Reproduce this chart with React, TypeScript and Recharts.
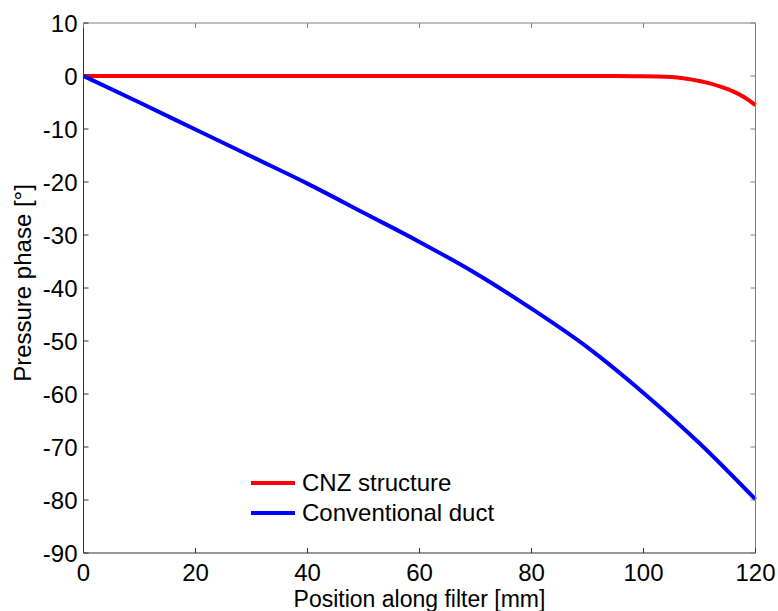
import React from 'react';
import { LineChart, Line, XAxis, YAxis, Legend } from 'recharts';

const xTicks = [0, 20, 40, 60, 80, 100, 120];
const yTicks = [-90, -80, -70, -60, -50, -40, -30, -20, -10, 0, 10];

const ductPositions = [0, 10, 20, 30, 40, 50, 60, 70, 80, 90, 100, 110, 120];
const conventionalDuct = [0, -5, -10.1, -15.2, -20.3, -25.8, -31.3, -37.2, -43.9, -51.2, -59.8, -69.3, -79.9];

const cnzPositions = [0, 20, 40, 60, 80, 90, 95, 100, 104, 106, 108, 110, 112, 114, 116, 118, 120];
const cnzStructure = [0, 0, 0, 0, 0, 0, -0.02, -0.05, -0.15, -0.3, -0.55, -0.95, -1.45, -2.1, -2.9, -4.0, -5.5];

const seriesNames = ['CNZ structure', 'Conventional duct'];
const seriesColors = ['#ff0000', '#0000ff'];

const cnzData = cnzPositions.map((x, i) => ({ x, y: cnzStructure[i] }));
const ductData = ductPositions.map((x, i) => ({ x, y: conventionalDuct[i] }));

const FONT = '"Liberation Sans", Arial, Helvetica, sans-serif';
const TICK_LEN = 5;

const LegendContent = (props: any) => {
  const payload = (props.payload || []).filter((p: any) => p.type !== 'none');
  return (
    <div style={{ fontFamily: FONT, fontSize: 24, color: '#000' }}>
      {payload.map((p: any) => (
        <div key={p.value} style={{ display: 'flex', alignItems: 'center', height: 30 }}>
          <svg width={44} height={4} style={{ marginRight: 7, display: 'block' }}>
            <line x1={0} y1={2} x2={44} y2={2} stroke={p.color} strokeWidth={4} />
          </svg>
          <span style={{ lineHeight: '30px', whiteSpace: 'nowrap' }}>{p.value}</span>
        </div>
      ))}
    </div>
  );
};

const BottomTick = (props: any) => {
  const { x, y, payload } = props;
  const base = y - 12;
  return (
    <g>
      <line x1={x} y1={base} x2={x} y2={base - TICK_LEN} stroke="#333" strokeWidth={1} />
      <text x={x} y={base + 28} textAnchor="middle" style={{ fontFamily: FONT, fontSize: 24, fill: '#000' }}>
        {payload.value}
      </text>
    </g>
  );
};

const LeftTick = (props: any) => {
  const { x, y, payload } = props;
  const base = x + 10;
  return (
    <g>
      <line x1={base} y1={y} x2={base + TICK_LEN} y2={y} stroke="#333" strokeWidth={1} />
      <text x={x + 4} y={y + 8.5} textAnchor="end" style={{ fontFamily: FONT, fontSize: 24, fill: '#000' }}>
        {payload.value}
      </text>
    </g>
  );
};

const TopTick = (props: any) => {
  const { x, y } = props;
  return <line x1={x} y1={y} x2={x} y2={y + TICK_LEN} stroke="#808080" strokeWidth={1} />;
};

const RightTick = (props: any) => {
  const { x, y } = props;
  return <line x1={x} y1={y} x2={x - TICK_LEN} y2={y} stroke="#808080" strokeWidth={1} />;
};

export default function App() {
  return (
    <div style={{ position: 'absolute', left: 0, top: 0, width: 778, height: 611, background: '#fff' }}>
      <LineChart width={778} height={611} margin={{ top: 22, right: 21.5, bottom: 28, left: 23.5 }}>
        <XAxis
          xAxisId="b"
          dataKey="x"
          type="number"
          orientation="bottom"
          domain={[0, 120]}
          ticks={xTicks}
          height={30}
          tickSize={0}
          tickMargin={12}
          tickLine={false}
          stroke="#333"
          tick={<BottomTick />}
          interval={0}
          allowDuplicatedCategory={false}
          label={{
            content: (p: any) => (
              <text
                x={p.viewBox.x + p.viewBox.width / 2}
                y={p.viewBox.y + 54}
                textAnchor="middle"
                style={{ fontFamily: FONT, fontSize: 23, fill: '#000' }}
              >
                Position along filter [mm]
              </text>
            ),
          }}
        />
        <XAxis
          xAxisId="t"
          dataKey="x"
          type="number"
          orientation="top"
          domain={[0, 120]}
          ticks={xTicks}
          height={1}
          tickSize={0}
          tickMargin={0}
          tickLine={false}
          interval={0}
          stroke="#808080"
          tick={<TopTick />}
        />
        <YAxis
          yAxisId="l"
          type="number"
          orientation="left"
          domain={[-90, 10]}
          ticks={yTicks}
          width={60}
          tickSize={0}
          tickMargin={10}
          tickLine={false}
          interval={0}
          stroke="#333"
          tick={<LeftTick />}
          label={{
            content: () => (
              <text
                x={31}
                y={283}
                transform="rotate(-90, 31, 283)"
                textAnchor="middle"
                style={{ fontFamily: FONT, fontSize: 24, fill: '#000' }}
              >
                Pressure phase [°]
              </text>
            ),
          }}
        />
        <YAxis
          yAxisId="r"
          type="number"
          orientation="right"
          domain={[-90, 10]}
          ticks={yTicks}
          width={1}
          tickSize={0}
          tickMargin={0}
          tickLine={false}
          interval={0}
          stroke="#808080"
          tick={<RightTick />}
        />
        <Legend
          verticalAlign="middle"
          align="center"
          content={<LegendContent />}
          wrapperStyle={{ top: 468, left: 251, width: 'auto', height: 'auto' }}
        />
        <Line
          xAxisId="t"
          yAxisId="r"
          data={ductData}
          dataKey="y"
          stroke="none"
          dot={false}
          legendType="none"
          isAnimationActive={false}
        />
        <Line
          xAxisId="b"
          yAxisId="l"
          data={cnzData}
          dataKey="y"
          name={seriesNames[0]}
          stroke={seriesColors[0]}
          strokeWidth={4}
          dot={false}
          type="monotone"
          isAnimationActive={false}
        />
        <Line
          xAxisId="b"
          yAxisId="l"
          data={ductData}
          dataKey="y"
          name={seriesNames[1]}
          stroke={seriesColors[1]}
          strokeWidth={4}
          dot={false}
          type="monotone"
          isAnimationActive={false}
        />
      </LineChart>
    </div>
  );
}
